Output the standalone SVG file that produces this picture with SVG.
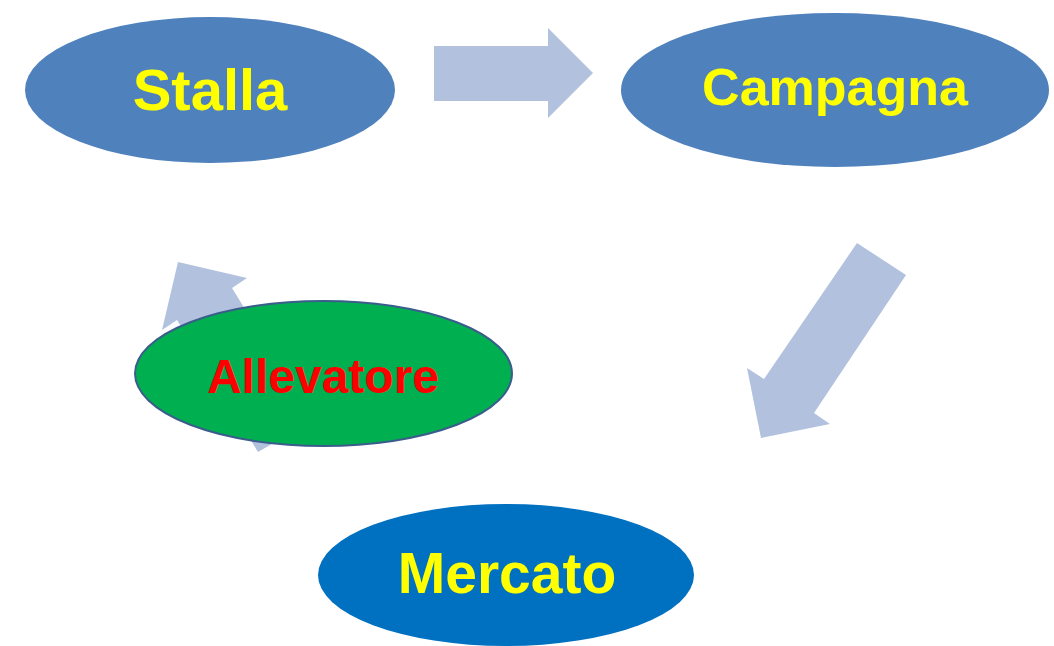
<svg xmlns="http://www.w3.org/2000/svg" width="1054" height="646" viewBox="0 0 1054 646">
<style>
.arrow{fill:#B2C2DE;stroke:none}
.lbl{font-family:"Liberation Sans",Arial,sans-serif;font-weight:bold;text-anchor:middle}
.yel{fill:#FFFF00}
</style>
<rect width="1054" height="646" fill="#FFFFFF"/>
<g id="connectors">
<polygon class="arrow" points="434,46 548,46 548,28 593,73 548,118 548,101 434,101"/>
<polygon class="arrow" points="857,243 906,275 814,413 830,424 761,438 747,368 764,379"/>
<polygon class="arrow" points="178,262 247,278 232,288 313,420 258,452 177,320 162,330"/>
</g>
<g id="stalla">
<ellipse cx="210" cy="90" rx="185" ry="73" fill="#4F81BD"/>
<text class="lbl yel" x="210" y="110" font-size="58">Stalla</text>
</g>
<g id="campagna">
<ellipse cx="835" cy="90" rx="214" ry="77" fill="#4F81BD"/>
<text class="lbl yel" x="835" y="105" font-size="52">Campagna</text>
</g>
<g id="mercato">
<ellipse cx="506" cy="575" rx="188" ry="71" fill="#0070C0"/>
<text class="lbl yel" x="507" y="593" font-size="57">Mercato</text>
</g>
<g id="allevatore">
<ellipse cx="323.5" cy="373.5" rx="188.5" ry="72.5" fill="#00B050" stroke="#3A5D8C" stroke-width="2"/>
<text class="lbl" x="323" y="393" font-size="48" fill="#FF0000">Allevatore</text>
</g>
</svg>
